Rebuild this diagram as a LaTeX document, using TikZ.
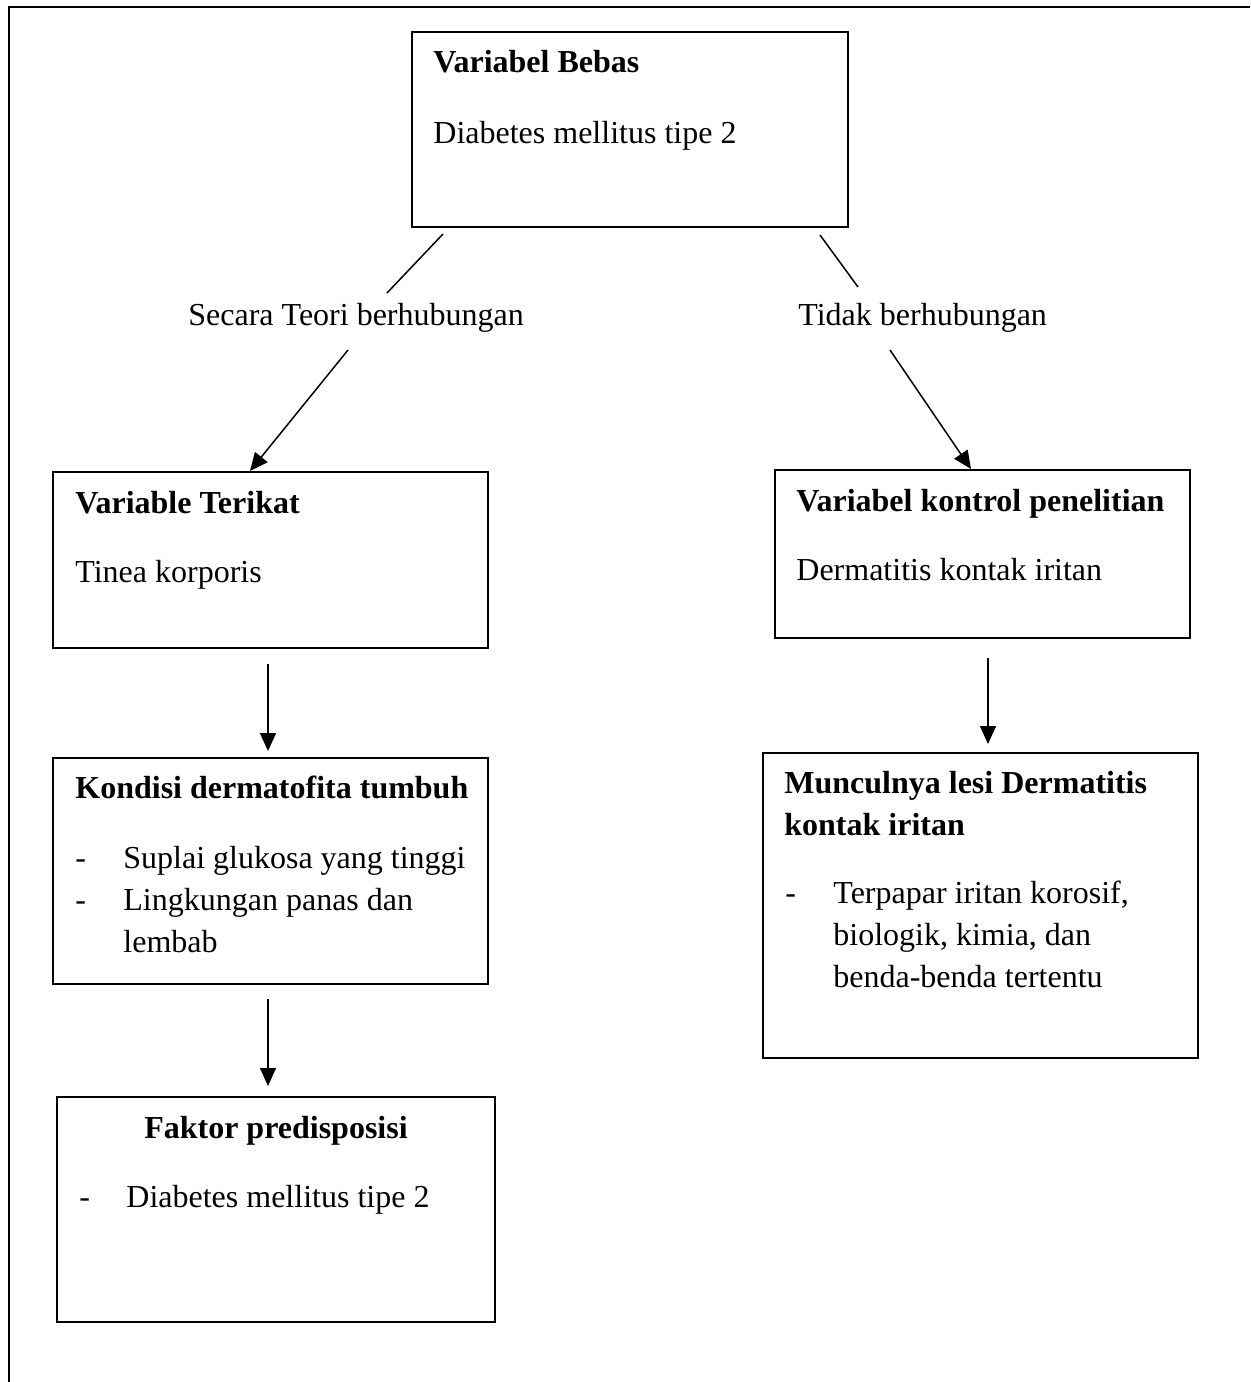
\documentclass[tikz,border=0pt]{standalone}
\usepackage{fontspec}
\setmainfont{Liberation Serif}
\usetikzlibrary{arrows.meta,fit,positioning}

\begin{document}
\begin{tikzpicture}[x=0.5pt,y=-0.5pt,
		kotak/.style={draw,line width=1pt,inner sep=0pt,rectangle},
		judul/.style={anchor=base west,inner sep=0pt,font=\fontsize{16}{19}\selectfont\bfseries},
		isi/.style={anchor=base west,inner sep=0pt,font=\fontsize{16}{19}\selectfont},
		garis/.style={line width=0.75pt},
		panah/.style={line width=0.75pt,-{Triangle[length=9pt,width=8pt]}}]
			\useasboundingbox (0,0) rectangle (1250,1382);
			\draw[line width=1.25pt] (9,1382) -- (9,7) -- (1250,7);
			\node[kotak,fit={(412,32) (848,227)}] (bebas) {};
			\node[kotak,fit={(53,472) (488,648)}] (terikat) {};
			\node[kotak,fit={(775,470) (1190,638)}] (kontrol) {};
			\node[kotak,fit={(53,758) (488,984)}] (kondisi) {};
			\node[kotak,fit={(763,753) (1198,1058)}] (lesi) {};
			\node[kotak,fit={(57,1097) (495,1322)}] (faktor) {};
			\node[judul] (bebas-j) at (433,72) {Variabel Bebas};
			\node[isi] (bebas-i) at (433,143) {Diabetes mellitus tipe 2};
			\node[isi] (teori) at (188,325) {Secara Teori berhubungan};
			\node[isi] (tidak) at (798,325) {Tidak berhubungan};
			\node[judul] (terikat-j) at (75,513) {Variable Terikat};
			\node[isi] (terikat-i) at (75,582) {Tinea korporis};
			\node[judul] (kontrol-j) at (796,511) {Variabel kontrol penelitian};
			\node[isi] (kontrol-i) at (796,580) {Dermatitis kontak iritan};
			\node[judul] (kondisi-j) at (75,798) {Kondisi dermatofita tumbuh};
			\foreach \y/\teks in {868/Suplai glukosa yang tinggi, 910/Lingkungan panas dan}
			{
				\node[isi] (kondisi-s\y) at (75,\y) {-};
				\node[isi] (kondisi-t\y) at (123,\y) {\teks};
			}
			\node[isi] (kondisi-t952) at (123,952) {lembab};
			\node[judul] (lesi-j1) at (784,793) {Munculnya lesi Dermatitis};
			\node[judul] (lesi-j2) at (784,835) {kontak iritan};
			\node[isi] (lesi-s) at (785,903) {-};
			\foreach \y/\teks in {903/{Terpapar iritan korosif,}, 945/{biologik, kimia, dan}, 987/benda-benda tertentu}
				\node[isi] (lesi-t\y) at (833,\y) {\teks};
			\node[judul,anchor=base] (faktor-j) at (276,1138) {Faktor predisposisi};
			\node[isi] (faktor-s) at (79,1207) {-};
			\node[isi] (faktor-t) at (126,1207) {Diabetes mellitus tipe 2};
			\coordinate (teori-a) at (443,234);
			\coordinate (teori-b) at (387,293);
			\coordinate (teori-c) at (348,350);
			\coordinate (tidak-a) at (820,235);
			\coordinate (tidak-b) at (858,287);
			\coordinate (tidak-c) at (890,350);
			\draw[garis] (teori-a) -- (teori-b);
			\draw[garis] (tidak-a) -- (tidak-b);
			\draw[panah] (teori-c) -- (terikat.north -| 250,0);
			\draw[panah] (tidak-c) -- (kontrol.north -| 971,0);
			\draw[panah,shorten <=7.5pt,shorten >=3pt] (terikat.south -| 268,0) -- (kondisi.north -| 268,0);
			\draw[panah,shorten <=7pt,shorten >=5pt] (kondisi.south -| 268,0) -- (faktor.north -| 268,0);
			\draw[panah,shorten <=9.5pt,shorten >=4pt] (kontrol.south -| 988,0) -- (lesi.north -| 988,0);
		\end{tikzpicture}
\end{document}
